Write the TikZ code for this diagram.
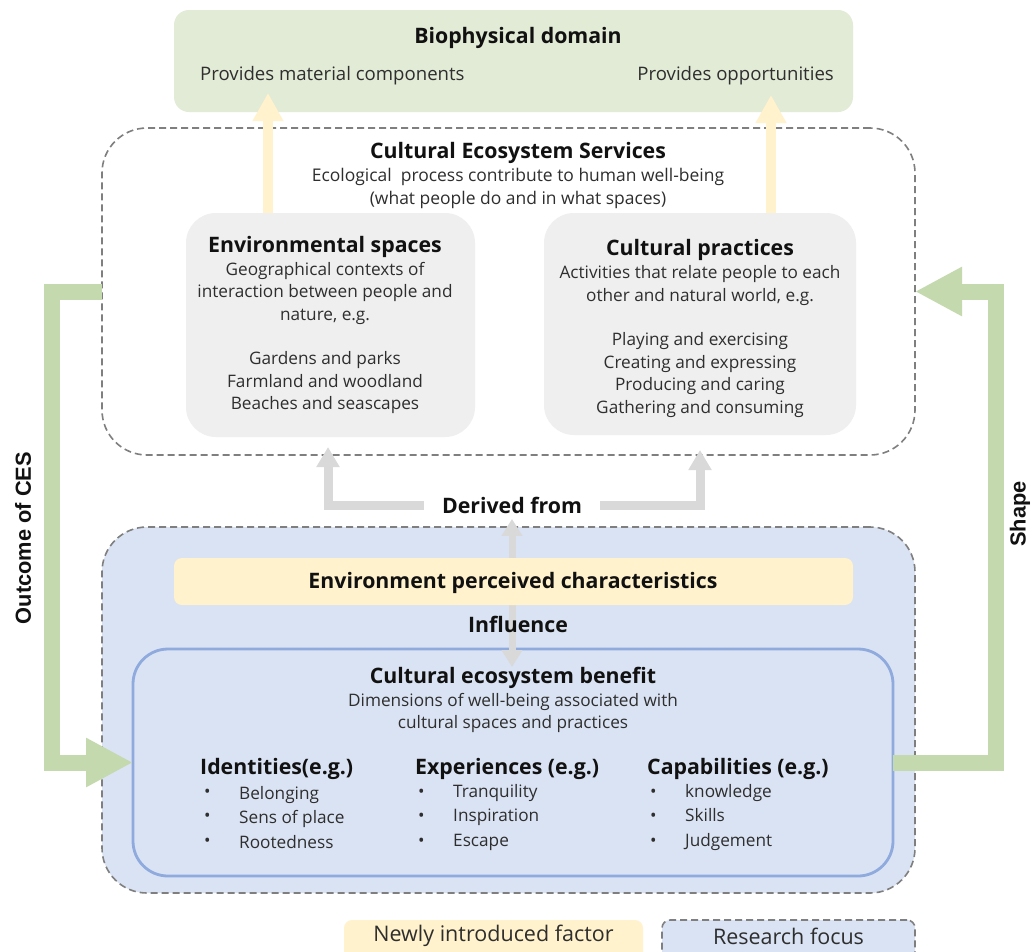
\documentclass[tikz,border=0pt]{standalone}
\usepackage{fontspec}
\setmainfont{Open Sans}
\newfontfamily\sidefont{Liberation Sans}
\usetikzlibrary{arrows.meta,calc}
\definecolor{bioGreen}{HTML}{E2EBD6}
\definecolor{arrGreen}{HTML}{C5D9AF}
\definecolor{softYellow}{HTML}{FFF2CC}
\definecolor{boxGray}{HTML}{EFEFEF}
\definecolor{rfBlue}{HTML}{DAE3F3}
\definecolor{benBlue}{HTML}{8FAADC}
\definecolor{arrGray}{HTML}{D9D9D9}
\definecolor{dashGray}{HTML}{7F7F7F}
\definecolor{bodyTxt}{HTML}{2E2E2E}
\definecolor{ttlTxt}{HTML}{111111}
\tikzset{
  panel/.style={rectangle, inner sep=0pt, outer sep=0pt},
  dashbox/.style={panel, draw=dashGray, line width=1.6pt, dash pattern=on 7pt off 4pt},
  ttl/.style={inner sep=0pt, yshift=-2.5pt, text=ttlTxt, font=\fontsize{21.3}{25}\selectfont\bfseries},
  body/.style={inner sep=0pt, yshift=-2pt, text=bodyTxt, align=center, font=\fontsize{17.2}{22.4}\selectfont},
  lst/.style={inner sep=0pt, yshift=-2pt, text=bodyTxt, anchor=west, align=left, font=\fontsize{17.2}{24.5}\selectfont},
  legtxt/.style={inner sep=0pt, text=bodyTxt, font=\fontsize{21.5}{25}\selectfont},
  sidelbl/.style={inner sep=0pt, rotate=90, text=ttlTxt, font=\fontsize{21.8}{25}\sidefont\bfseries},
  yarrow/.style={draw=softYellow, line width=10pt, -{Triangle[width=29pt,length=28pt]}},
  grarrow/.style={draw=arrGray, line width=9pt, -{Triangle[width=22pt,length=20pt]}},
  darrow/.style={draw=arrGray, line width=7pt, {Triangle[width=20pt,length=17pt]}-{Triangle[width=20pt,length=17pt]}},
  garrow/.style={draw=arrGreen, line width=16pt, -{Triangle[width=46pt,length=47pt]}},
}
\begin{document}
\begin{tikzpicture}[x=1pt,y=-1pt]
\useasboundingbox[fill=white] (0,0) rectangle (1032,951);
% boxes
\node[panel, fill=bioGreen, rounded corners=15pt, minimum width=679pt, minimum height=102pt] (bio) at (513.5,61) {};
\node[dashbox, rounded corners=45pt, minimum width=813pt, minimum height=327pt] (ces) at (508.5,291.5) {};
\coordinate (lx) at (268,0);
\coordinate (rx) at (771,0);
\node[panel, minimum width=289pt, minimum height=224pt] (envph) at (330.5,325) {};
\node[panel, minimum width=312pt, minimum height=222pt] (pracph) at (700,324) {};
\draw[yarrow] (envph.north -| lx) -- ($(bio.south -| lx)+(0,-19)$);
\draw[yarrow] (pracph.north -| rx) -- ($(bio.south -| rx)+(0,-17)$);
\node[panel, fill=boxGray, rounded corners=30pt, minimum width=289pt, minimum height=224pt] (env) at (330.5,325) {};
\node[panel, fill=boxGray, rounded corners=30pt, minimum width=312pt, minimum height=222pt] (prac) at (700,324) {};
\node[dashbox, fill=rfBlue, rounded corners=45pt, minimum width=813pt, minimum height=366pt] (rf) at (508.5,710) {};
\node[panel, draw=benBlue, line width=2.8pt, rounded corners=35pt, minimum width=760pt, minimum height=227pt] (ben) at (513,762.5) {};
% texts top
\node[ttl] (biot) at (518,35) {Biophysical domain};
\node[body, anchor=west, font=\fontsize{18.6}{22}\selectfont] (biol) at (200,74) {Provides material components};
\node[body, anchor=east, font=\fontsize{18.6}{22}\selectfont] (bior) at (834,74) {Provides opportunities};
\node[ttl] (cest) at (518,150) {Cultural Ecosystem Services};
\node[body, font=\fontsize{17.45}{23}\selectfont] (cesb) at (518,186.5) {Ecological\ \ process contribute to human well-being\\(what people do and in what spaces)};
\node[ttl] (envt) at (325,244) {Environmental spaces};
\node[body] (envb) at (325,336) {Geographical contexts of\\interaction between people and\\nature, e.g.\\[22.4pt]Gardens and parks\\Farmland and woodland\\Beaches and seascapes};
\node[ttl] (pract) at (700,247) {Cultural practices};
\node[body] (pracb) at (700,339.5) {Activities that relate people to each\\other and natural world, e.g.\\[22.4pt]Playing and exercising\\Creating and expressing\\Producing and caring\\Gathering and consuming};
% derived from
\node[ttl, inner xsep=18pt, inner ysep=3pt] (derived) at (512,503) {Derived from};
\draw[grarrow] (derived.west) -| ($(ces.south -| 328,0)+(0,-8)$);
\draw[grarrow] (derived.east) -| ($(ces.south -| 700,0)+(0,-5)$);
\draw[darrow] ($(derived.south)+(0,2)$) -- ($(ben.north -| derived.south)+(0,18)$);
\node[panel, fill=softYellow, rounded corners=8pt, minimum width=679pt, minimum height=47pt] (epc) at (513.5,581.5) {};
\node[ttl] (epct) at (513,580) {Environment perceived characteristics};
\node[ttl] (infl) at (518,622) {Influence};
% benefit
\node[ttl] (bent) at (513,675) {Cultural ecosystem benefit};
\node[body] (benb) at (513,711) {Dimensions of well-being associated with\\cultural spaces and practices};
\node[ttl, anchor=west] (idt) at (200,766) {Identities(e.g.)};
\node[lst] (idb) at (204,815.5) {\textbullet\\\textbullet\\\textbullet};
\node[lst] (idi) at (239,815.5) {Belonging\\Sens of place\\Rootedness};
\node[ttl, anchor=west] (ext) at (415,766) {Experiences (e.g.)};
\node[lst] (exb) at (418,815.5) {\textbullet\\\textbullet\\\textbullet};
\node[lst] (exi) at (453,815.5) {Tranquility\\Inspiration\\Escape};
\node[ttl, anchor=west] (cat) at (647,766) {Capabilities (e.g.)};
\node[lst] (cab) at (650,815.5) {\textbullet\\\textbullet\\\textbullet};
\node[lst] (cai) at (685,815.5) {knowledge\\Skills\\Judgement};
% green loop arrows
\coordinate (gl) at (52,762.5);
\coordinate (gr) at (996,291.5);
\draw[garrow] (ces.west) -| (gl) -- (ben.west);
\draw[garrow] (ben.east) -| (gr) -- (ces.east);
\node[sidelbl] (outc) at (23,538) {Outcome of CES};
\node[sidelbl] (shape) at (1020,514) {Shape};
% legend
\node[panel, fill=softYellow, rounded corners=8pt, minimum width=299pt, minimum height=45pt] (leg1) at (493.5,942.5) {};
\node[dashbox, fill=rfBlue, rounded corners=8pt, minimum width=253pt, minimum height=45pt] (leg2) at (788.5,942.5) {};
\node[legtxt] (leg1t) at (493.5,936) {Newly introduced factor};
\node[legtxt] (leg2t) at (788.5,936) {Research focus};
\end{tikzpicture}
\end{document}
